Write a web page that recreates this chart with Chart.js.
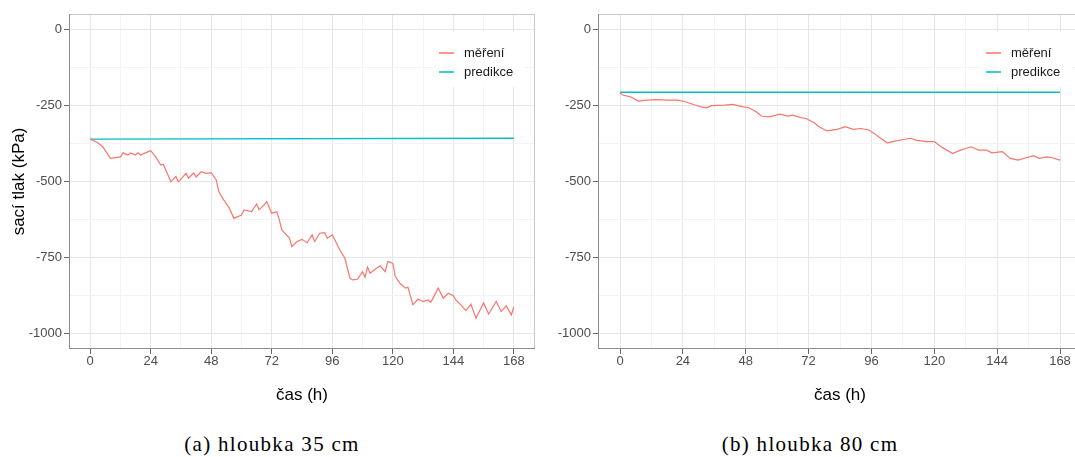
<!DOCTYPE html>
<html>
<head>
<meta charset="utf-8">
<script src="https://cdn.jsdelivr.net/npm/chart.js@4.4.1/dist/chart.umd.min.js"></script>
<style>
  html, body { margin: 0; padding: 0; background: #fff; }
  #wrap { position: relative; width: 1075px; height: 457px; overflow: hidden; }
  canvas { position: absolute; top: 0; }
  #c1 { left: 0; }
  #c2 { left: 540px; }
  .cap { position: absolute; top: 432px; line-height: 24px; font-family: 'Liberation Serif', 'DejaVu Serif', serif;
         font-size: 21px; letter-spacing: 1.3px; color: #000; transform: translateX(-50%); white-space: nowrap; }
</style>
</head>
<body>
<div id="wrap">
  <canvas id="c1" width="540" height="420"></canvas>
  <canvas id="c2" width="552" height="420"></canvas>
  <div class="cap" id="capA" style="left:272px"></div>
  <div class="cap" id="capB" style="left:810px"></div>
</div>
<script>
// hloubka 35 cm
const timeA = [0, 3, 5, 8, 12, 13, 15, 16, 18, 19, 20, 23, 24, 26, 28, 29, 32, 34, 35, 38, 39, 41, 42, 44, 46, 48,
  50, 51, 53, 55, 57, 60, 61, 64, 66, 67, 69, 70, 72, 74, 75, 76, 79, 80, 82, 84, 86, 88, 89, 91, 93, 94, 96,
  98, 99, 101, 103, 104, 106, 108, 109, 110, 111, 113, 115, 117, 118, 120, 121, 123, 125, 126, 128, 130, 132,
  134, 135, 136, 138, 140, 142, 144, 145, 147, 149, 151, 153, 156, 158, 161, 163, 165, 167, 168];
const measA = [-360, -373, -386, -424, -419, -406, -413, -406, -413, -406, -413, -402, -399, -419, -446, -443,
  -501, -484, -501, -473, -489, -472, -485, -468, -473, -471, -495, -533, -561, -585, -621, -610, -593, -599,
  -574, -593, -577, -566, -604, -599, -626, -659, -686, -714, -697, -690, -701, -675, -697, -670, -668, -686,
  -675, -708, -725, -752, -817, -823, -821, -796, -814, -781, -801, -788, -777, -796, -763, -768, -812, -836,
  -850, -847, -905, -886, -894, -889, -897, -883, -850, -883, -867, -875, -889, -905, -924, -903, -949, -899,
  -935, -894, -927, -908, -938, -913];
const predTimeA = [0, 168];
const predA = [-361, -358];

// hloubka 80 cm
const timeB = [0, 1, 4, 7, 10, 14, 18, 22, 25, 28, 31, 33, 35, 40, 43, 47, 49, 52, 54, 57, 61, 64, 66, 69, 71,
  74, 76, 79, 83, 86, 89, 92, 95, 97, 99, 102, 106, 108, 111, 113, 117, 120, 123, 127, 130, 134, 137, 140, 142,
  146, 149, 152, 155, 158, 160, 163, 165, 168];
const measB = [-209, -216, -222, -236, -233, -231, -233, -233, -238, -247, -255, -258, -251, -249, -247, -255,
  -257, -271, -285, -288, -279, -285, -282, -290, -293, -306, -320, -334, -329, -320, -329, -326, -331, -342,
  -355, -373, -366, -362, -358, -364, -369, -369, -388, -408, -397, -386, -397, -397, -406, -402, -424, -430,
  -422, -415, -424, -419, -422, -430];
const predTimeB = [0, 168];
const predB = [-207, -207];

const xMajor = [0, 24, 48, 72, 96, 120, 144, 168];
const xMinor = [12, 36, 60, 84, 108, 132, 156];
const yMajor = [-1000, -750, -500, -250, 0];
const yMinor = [-875, -625, -375, -125];
const seriesNames = ['měření', 'predikce'];
const captions = ['(a) hloubka 35 cm', '(b) hloubka 80 cm'];

const RED = '#F8766D';
const TEAL = '#00BFC4';
const FONT = "'Liberation Sans', Arial, sans-serif";

document.getElementById('capA').textContent = captions[0];
document.getElementById('capB').textContent = captions[1];

function pts(xs, ys) {
  return xs.map((x, i) => ({ x: x, y: ys[i] }));
}

// panel frame: light top/right, darker axis lines left/bottom
const panelFrame = {
  id: 'panelFrame',
  afterDatasetsDraw(chart) {
    const { ctx, chartArea: a } = chart;
    ctx.save();
    ctx.lineWidth = 1;
    ctx.strokeStyle = '#c8c8c8';
    ctx.beginPath();
    ctx.moveTo(a.left, a.top + 0.5); ctx.lineTo(a.right, a.top + 0.5);
    ctx.moveTo(a.right - 0.5, a.top); ctx.lineTo(a.right - 0.5, a.bottom);
    ctx.stroke();
    ctx.strokeStyle = '#8c8c8c';
    ctx.beginPath();
    ctx.moveTo(a.left + 0.5, a.top); ctx.lineTo(a.left + 0.5, a.bottom);
    ctx.moveTo(a.left, a.bottom - 0.5); ctx.lineTo(a.right, a.bottom - 0.5);
    ctx.stroke();
    ctx.restore();
  }
};

// ggplot-like legend inside the panel, top right
const boxLegend = {
  id: 'boxLegend',
  afterDraw(chart) {
    const { ctx, chartArea: a } = chart;
    const x0 = a.right - 96;
    ctx.save();
    ctx.fillStyle = '#fff';
    ctx.fillRect(x0 - 6, a.top + 18, 92, 55);
    ctx.font = '13px ' + FONT;
    ctx.textBaseline = 'middle';
    chart.data.datasets.forEach((ds, i) => {
      const y = a.top + 39 + i * 19;
      ctx.strokeStyle = ds.borderColor;
      ctx.lineWidth = 1.5;
      ctx.beginPath();
      ctx.moveTo(x0, y); ctx.lineTo(x0 + 15, y);
      ctx.stroke();
      ctx.fillStyle = '#1a1a1a';
      ctx.fillText(ds.label, x0 + 25, y);
    });
    ctx.restore();
  }
};

function makeChart(id, t, m, pt, p, showTitle, yWidth, padRight) {
  return new Chart(document.getElementById(id), {
    type: 'line',
    data: {
      datasets: [
        { label: seriesNames[0], data: pts(t, m), borderColor: RED, borderWidth: 1.2 },
        { label: seriesNames[1], data: pts(pt, p), borderColor: TEAL, borderWidth: 1.4 }
      ]
    },
    options: {
      responsive: false,
      animation: false,
      events: [],
      layout: { padding: { top: 14, right: padRight, left: 0, bottom: 0 } },
      elements: { point: { radius: 0 }, line: { tension: 0 } },
      plugins: { legend: { display: false }, tooltip: { enabled: false } },
      scales: {
        x: {
          type: 'linear',
          min: -8.4,
          max: 176.4,
          afterBuildTicks: s => { s.ticks = xMajor.concat(xMinor).sort((a, b) => a - b).map(v => ({ value: v })); },
          afterFit: s => { s.height = 71; },
          border: { display: false },
          grid: {
            color: c => xMajor.includes(c.tick.value) ? '#e6e6e6' : '#f3f3f3',
            tickColor: c => xMajor.includes(c.tick.value) ? '#666' : 'rgba(0,0,0,0)',
            tickLength: 5,
            lineWidth: 1
          },
          ticks: {
            autoSkip: false,
            maxRotation: 0,
            padding: 0,
            color: '#4d4d4d',
            font: { family: FONT, size: 13 },
            callback: v => xMajor.includes(v) ? String(v) : ''
          },
          title: {
            display: true,
            text: 'čas (h)',
            color: '#000',
            font: { family: FONT, size: 17 },
            padding: { top: 0, bottom: 14 }
          }
        },
        y: {
          type: 'linear',
          min: -1050,
          max: 50,
          afterBuildTicks: s => { s.ticks = yMajor.concat(yMinor).sort((a, b) => a - b).map(v => ({ value: v })); },
          afterFit: s => { s.width = yWidth; },
          border: { display: false },
          grid: {
            color: c => yMajor.includes(c.tick.value) ? '#e6e6e6' : '#f3f3f3',
            tickColor: c => yMajor.includes(c.tick.value) ? '#666' : 'rgba(0,0,0,0)',
            tickLength: 5,
            lineWidth: 1
          },
          ticks: {
            padding: 2,
            color: '#4d4d4d',
            font: { family: FONT, size: 13 },
            callback: v => yMajor.includes(v) ? String(v) : ''
          },
          title: {
            display: showTitle,
            text: 'sací tlak (kPa)',
            color: '#000',
            font: { family: FONT, size: 17 },
            padding: { top: 9, bottom: 0 }
          }
        }
      }
    },
    plugins: [panelFrame, boxLegend]
  });
}

makeChart('c1', timeA, measA, predTimeA, predA, true, 69, 5);
makeChart('c2', timeB, measB, predTimeB, predB, false, 58, 10);
</script>
</body>
</html>
